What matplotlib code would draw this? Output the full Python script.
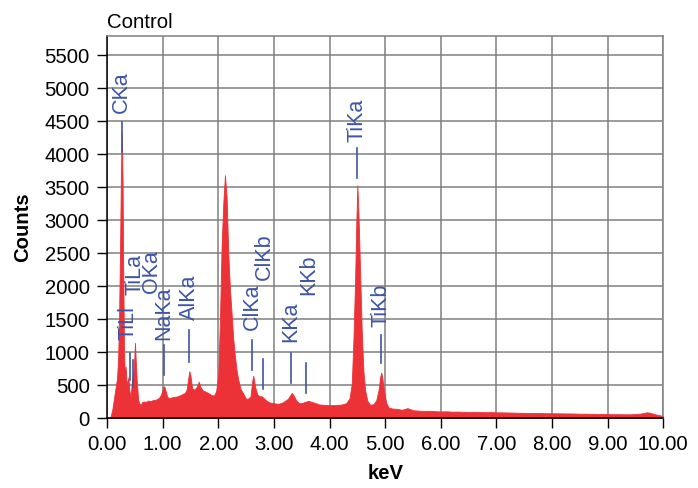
import matplotlib
matplotlib.use("Agg")
import matplotlib.pyplot as plt

plt.rcParams["font.family"] = ["Liberation Sans", "DejaVu Sans"]

# Spectrum (keV, counts)
kev = [0.00, 0.06, 0.10, 0.14, 0.18, 0.20, 0.215, 0.235, 0.25, 0.265, 0.28, 0.29,
       0.305, 0.32, 0.335, 0.355, 0.37, 0.385, 0.40, 0.425, 0.445, 0.475, 0.49, 0.503,
       0.515, 0.535, 0.56, 0.58, 0.605, 0.63, 0.66, 0.70, 0.74, 0.78, 0.82, 0.86,
       0.90, 0.95, 0.99, 1.01, 1.03, 1.05, 1.08, 1.11, 1.15, 1.20, 1.25, 1.30, 1.35,
       1.40, 1.43, 1.46, 1.48, 1.50, 1.53, 1.57, 1.61, 1.65, 1.68, 1.72, 1.77, 1.82,
       1.87, 1.92, 1.96, 2.00, 2.03, 2.06, 2.09, 2.12, 2.15, 2.18, 2.21, 2.24, 2.27,
       2.30, 2.33, 2.36, 2.40, 2.45, 2.50, 2.55, 2.58, 2.61, 2.63, 2.66, 2.70, 2.74,
       2.78, 2.82, 2.87, 2.93, 3.00, 3.07, 3.14, 3.20, 3.25, 3.29, 3.32, 3.35, 3.40,
       3.45, 3.50, 3.56, 3.62, 3.68, 3.75, 3.82, 3.90, 3.98, 4.06, 4.14, 4.22, 4.30,
       4.36, 4.40, 4.43, 4.46, 4.48, 4.50, 4.52, 4.55, 4.58, 4.61, 4.64, 4.68, 4.73,
       4.79, 4.84, 4.88, 4.91, 4.93, 4.95, 4.98, 5.02, 5.06, 5.12, 5.20, 5.30, 5.40,
       5.50, 5.60, 5.70, 5.80, 5.90, 6.00, 6.10, 6.20, 6.30, 6.40, 6.50, 6.60, 6.70,
       6.80, 6.90, 7.00, 7.10, 7.20, 7.30, 7.40, 7.50, 7.60, 7.70, 7.80, 7.90, 8.00,
       8.10, 8.20, 8.30, 8.40, 8.50, 8.60, 8.70, 8.80, 8.90, 9.00, 9.10, 9.20, 9.30,
       9.40, 9.50, 9.58, 9.65, 9.70, 9.75, 9.80, 9.86, 9.92, 9.97, 10.00]
counts = [0, 0, 150, 380, 600, 900, 1400, 2600, 3700, 4330, 3600, 2400,
          1100, 620, 780, 480, 560, 610, 420, 330, 520, 690, 900, 1140,
          900, 560, 280, 220, 200, 240, 250, 245, 265, 255, 270, 275,
          285, 320, 400, 470, 480, 420, 330, 300, 310, 320, 325, 340, 360,
          380, 430, 600, 710, 640, 450, 430, 470, 550, 470, 420, 400, 380,
          350, 340, 400, 650, 1500, 2600, 3250, 3680, 3350, 2500, 1950, 1580, 1200,
          930, 720, 580, 440, 370, 290, 300, 330, 560, 640, 480, 360, 330,
          330, 300, 260, 235, 225, 215, 230, 260, 290, 340, 380, 350, 270,
          225, 225, 245, 260, 245, 225, 205, 200, 195, 195, 200, 205, 225,
          300, 520, 1200, 2100, 2900, 3530, 3100, 2200, 1300, 700, 420, 260, 200,
          210, 270, 420, 620, 690, 600, 400, 230, 160, 145, 140, 125, 150,
          118, 112, 108, 110, 104, 100, 102, 96, 98, 94, 92, 94, 90,
          88, 90, 86, 86, 84, 82, 80, 78, 78, 76, 75, 73, 72,
          72, 70, 70, 68, 66, 66, 64, 62, 62, 60, 58, 58, 57,
          56, 60, 66, 78, 86, 82, 70, 55, 45, 35, 28]

# Peak labels: marker line position and text position
label_names = ["CKa", "TiLl", "TiLa", "OKa", "NaKa", "AlKa", "ClKa", "ClKb",
               "KKa", "KKb", "TiKa", "TiKb"]
line_kev = [0.264, 0.413, 0.462, None, 1.025, 1.475, 2.61, 2.80, 3.305, 3.575, 4.50, 4.93]
line_low = [4030, 576, 470, None, 651, 848, 727, 439, 530, 379, 3636, 833]
line_high = [4485, 985, 879, None, 1106, 1333, 1182, 894, 985, 833, 4090, 1257]
text_kev = [0.264, 0.383, 0.50, 0.80, 1.025, 1.475, 2.61, 2.82, 3.31, 3.62, 4.50, 4.93]
text_low = [4620, 1182, 1864, 1894, 1182, 1485, 1333, 2090, 1151, 1864, 4181, 1379]

red = "#EC3237"
blue = "#3D55A5"

fig, ax = plt.subplots(figsize=(6.98, 4.88), dpi=100)
fig.subplots_adjust(left=0.1533, right=0.9503, bottom=0.1434, top=0.9262)

ax.fill_between(kev, counts, 0, color=red, linewidth=0.6, edgecolor=red, zorder=2)

for i, name in enumerate(label_names):
    if line_kev[i] is not None:
        ax.plot([line_kev[i], line_kev[i]], [line_low[i], line_high[i]],
                color=blue, linewidth=1.2, zorder=3)
    ax.text(text_kev[i], text_low[i], name, rotation=90, ha="center", va="bottom",
            color=blue, fontsize=15.5, zorder=4)

ax.set_xlim(0, 10)
ax.set_ylim(0, 5790)
ax.set_xticks([0, 1, 2, 3, 4, 5, 6, 7, 8, 9, 10])
ax.set_xticklabels(["0.00", "1.00", "2.00", "3.00", "4.00", "5.00", "6.00",
                    "7.00", "8.00", "9.00", "10.00"])
ax.set_yticks(range(0, 5501, 500))
ax.tick_params(direction="out", length=7.5, width=1, labelsize=14.6, pad=5, colors="black")

ax.set_axisbelow(True)
ax.grid(True, color="#808080", linewidth=1.1)
for side in ["top", "right"]:
    ax.spines[side].set_color("#808080")
    ax.spines[side].set_linewidth(1.1)
for side in ["left", "bottom"]:
    ax.spines[side].set_color("black")
    ax.spines[side].set_linewidth(1.1)

ax.set_xlabel("keV", fontsize=14.6, fontweight="bold", labelpad=7)
ax.set_ylabel("Counts", fontsize=14.6, fontweight="bold", labelpad=9)
ax.set_title("Control", loc="left", fontsize=14.7, pad=6)

fig.savefig("out.png", dpi=100)
